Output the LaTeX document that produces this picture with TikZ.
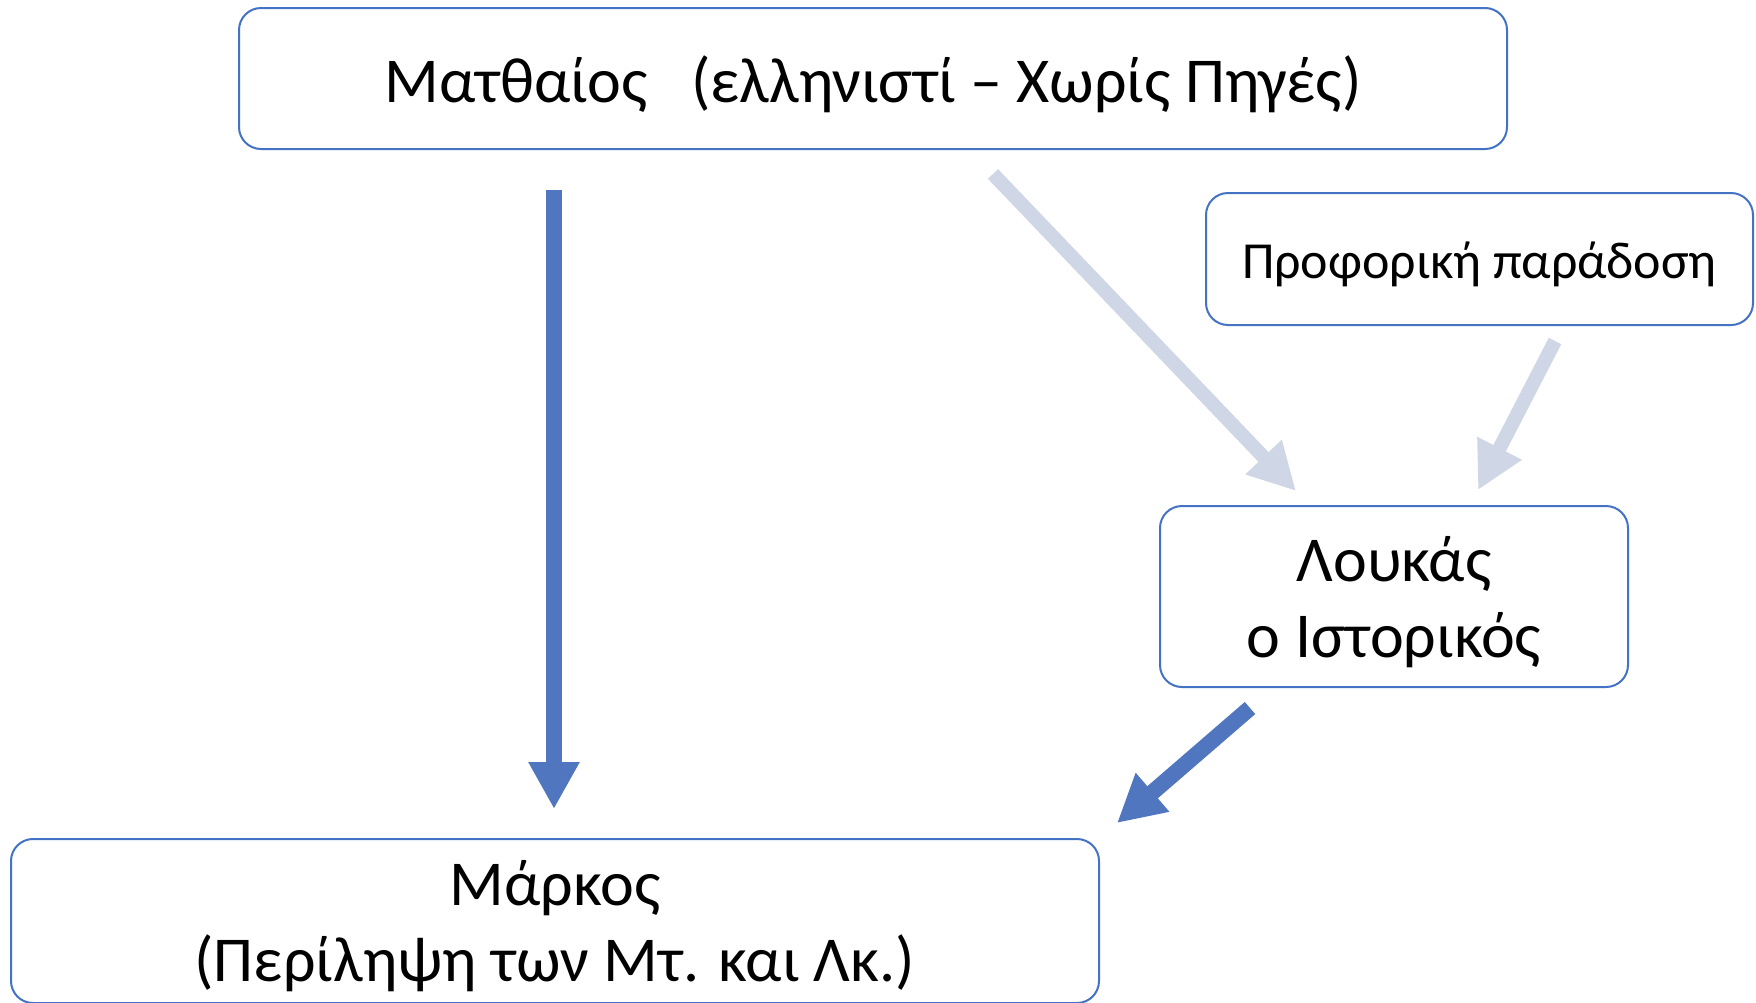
\documentclass[tikz,border=0pt]{standalone}
\usepackage{fontspec}
\setmainfont{Carlito}
\usetikzlibrary{arrows.meta}
\definecolor{boxblue}{RGB}{68,114,196}
\definecolor{arrowblue}{RGB}{80,118,191}
\definecolor{arrowlight}{RGB}{207,214,230}
\newcommand{\lowr}[1]{\raisebox{-2.8pt}[\height][\depth]{#1}}
\tikzset{
  roundbox/.style={draw=boxblue, line width=1pt, rounded corners=11pt, fill=white,
    align=center, inner sep=0pt, outer sep=0pt, text=black},
  bigtext/.style={font=\fontsize{32}{38}\selectfont},
  smalltext/.style={font=\fontsize{26}{31}\selectfont},
  darkarrow/.style={draw=arrowblue, line width=8pt, -{Triangle[width=24pt,length=23.5pt]}},
  lightarrow/.style={draw=arrowlight, line width=7pt, -{Triangle[width=23.5pt,length=23.5pt]}}
}
\begin{document}
\begin{tikzpicture}[x=0.5pt,y=-0.5pt]
\useasboundingbox[fill=white] (0,0) rectangle (1756,1002);
\node[roundbox, bigtext, minimum width=634pt, minimum height=70.5pt] (mat) at (873,78.5)
  {\lowr{Ματθαίος \ \ (ελληνιστί – Χωρίς Πηγές)}};
\node[roundbox, smalltext, minimum width=273.5pt, minimum height=66pt] (pro) at (1479.5,259)
  {\lowr{Προφορική παράδοση}};
\node[roundbox, bigtext, minimum width=234pt, minimum height=90.5pt] (luk) at (1394,596.5)
  {\lowr{Λουκάς}\\\lowr{ο Ιστορικός}};
\node[roundbox, bigtext, minimum width=544pt, minimum height=82pt] (mar) at (555,921)
  {\lowr{Μάρκος}\\\lowr{(Περίληψη των Μτ. και Λκ.)}};
\coordinate (a1s) at (554,190);
\coordinate (a1e) at (554,809);
\coordinate (a2s) at (993,174);
\coordinate (a2e) at (1296,491);
\coordinate (a3s) at (1555,341);
\coordinate (a3e) at (1478,490);
\coordinate (a4s) at (1250,708);
\coordinate (a4e) at (1117,823);
\draw[darkarrow] (a1s) -- (a1e);
\draw[lightarrow] (a2s) -- (a2e);
\draw[lightarrow] (a3s) -- (a3e);
\draw[darkarrow] (a4s) -- (a4e);
\end{tikzpicture}
\end{document}
